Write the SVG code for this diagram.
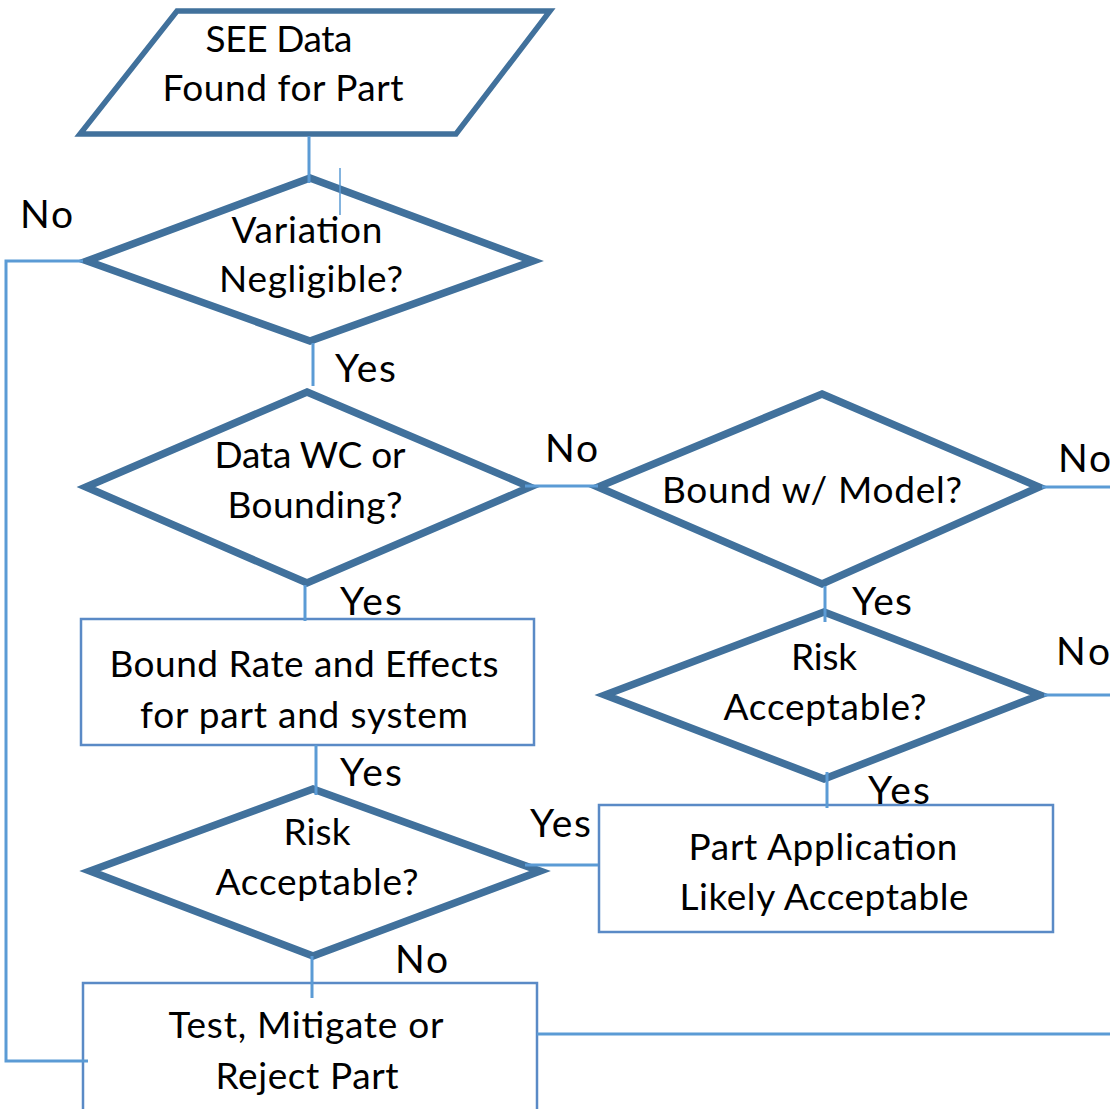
<svg xmlns="http://www.w3.org/2000/svg" width="1110" height="1109" viewBox="0 0 1110 1109">
<style>
.dia{fill:#fff;stroke:#41719C;stroke-width:7.5;stroke-linejoin:miter;stroke-miterlimit:10}
.para{fill:#fff;stroke:#41719C;stroke-width:5.5}
.box{fill:#fff;stroke:#5A8AC6;stroke-width:2.5}
.con{fill:none;stroke:#5B9BD5;stroke-width:3}
.t{font-family:Lato,"Open Sans","Liberation Sans",sans-serif;font-size:37px;fill:#000;text-anchor:middle}
.l{font-family:Lato,"Open Sans","Liberation Sans",sans-serif;font-size:39px;fill:#000}
</style>
<rect width="1110" height="1109" fill="#fff"/>
<g id="start">
<polygon class="para" points="177,11 550,11 456,134 80,134"/>
<text class="t" x="279" y="52" textLength="147">SEE Data</text>
<text class="t" x="283" y="101" textLength="241">Found for Part</text>
</g>
<g id="variation">
<polygon class="dia" points="310,178 533,261 310,341 87,261"/>
<text class="t" x="307" y="243" textLength="151">Variation</text>
<text class="t" x="311" y="292" textLength="184">Negligible?</text>
</g>
<g id="datawc">
<polygon class="dia" points="307,392 530,487 307,583 86,487"/>
<text class="t" x="310" y="468" textLength="191">Data WC or</text>
<text class="t" x="315" y="518" textLength="175">Bounding?</text>
</g>
<g id="boundmodel">
<polygon class="dia" points="822,394 1039,487 822,584 598,487"/>
<text class="t" x="812" y="503" textLength="300">Bound w/ Model?</text>
</g>
<g id="boundrate">
<rect class="box" x="81" y="619" width="453" height="126"/>
<text class="t" x="304" y="677" textLength="389">Bound Rate and Effects</text>
<text class="t" x="304" y="728" textLength="328">for part and system</text>
</g>
<g id="risk2">
<polygon class="dia" points="824,612 1040,695 824,779 605,695"/>
<text class="t" x="824" y="670" textLength="66">Risk</text>
<text class="t" x="825" y="720" textLength="203">Acceptable?</text>
</g>
<g id="risk1">
<polygon class="dia" points="313,789 540,871 313,956 90,871"/>
<text class="t" x="317" y="845" textLength="67">Risk</text>
<text class="t" x="317" y="895" textLength="203">Acceptable?</text>
</g>
<g id="partapp">
<rect class="box" x="599" y="805" width="454" height="127"/>
<text class="t" x="823" y="860" textLength="269">Part Application</text>
<text class="t" x="824" y="910" textLength="289">Likely Acceptable</text>
</g>
<g id="test">
<rect class="box" x="83" y="983" width="454" height="140"/>
<text class="t" x="306" y="1038" textLength="275">Test, Mitigate or</text>
<text class="t" x="307" y="1089" textLength="183">Reject Part</text>
</g>
<g id="connectors">
<line class="con" x1="309" y1="136" x2="309" y2="183"/>
<line x1="340" y1="168" x2="340" y2="215" stroke="#5B9BD5" stroke-width="1.5"/>
<path class="con" d="M83,261 H6 V1061 H88"/>
<line class="con" x1="313" y1="343" x2="313" y2="386"/>
<line class="con" x1="525" y1="486" x2="598" y2="486"/>
<line class="con" x1="1042" y1="487" x2="1110" y2="487"/>
<line class="con" x1="305" y1="585" x2="305" y2="621"/>
<line class="con" x1="825" y1="586" x2="825" y2="622"/>
<line class="con" x1="1044" y1="695" x2="1110" y2="695"/>
<line class="con" x1="827" y1="772" x2="827" y2="808"/>
<line class="con" x1="316" y1="745" x2="316" y2="795"/>
<line class="con" x1="525" y1="865" x2="598" y2="865"/>
<line class="con" x1="312" y1="956" x2="312" y2="998"/>
<line class="con" x1="537" y1="1034" x2="1110" y2="1034"/>
</g>
<g id="labels">
<text class="l" x="20" y="228" textLength="53">No</text>
<text class="l" x="335" y="382" textLength="61">Yes</text>
<text class="l" x="545" y="462" textLength="53">No</text>
<text class="l" x="1058" y="472" textLength="53">No</text>
<text class="l" x="340" y="615" textLength="62">Yes</text>
<text class="l" x="852" y="615" textLength="60">Yes</text>
<text class="l" x="1056" y="665" textLength="54">No</text>
<text class="l" x="340" y="786" textLength="62">Yes</text>
<text class="l" x="868" y="804" textLength="62">Yes</text>
<text class="l" x="530" y="837" textLength="61">Yes</text>
<text class="l" x="395" y="973" textLength="53">No</text>
</g>
</svg>
